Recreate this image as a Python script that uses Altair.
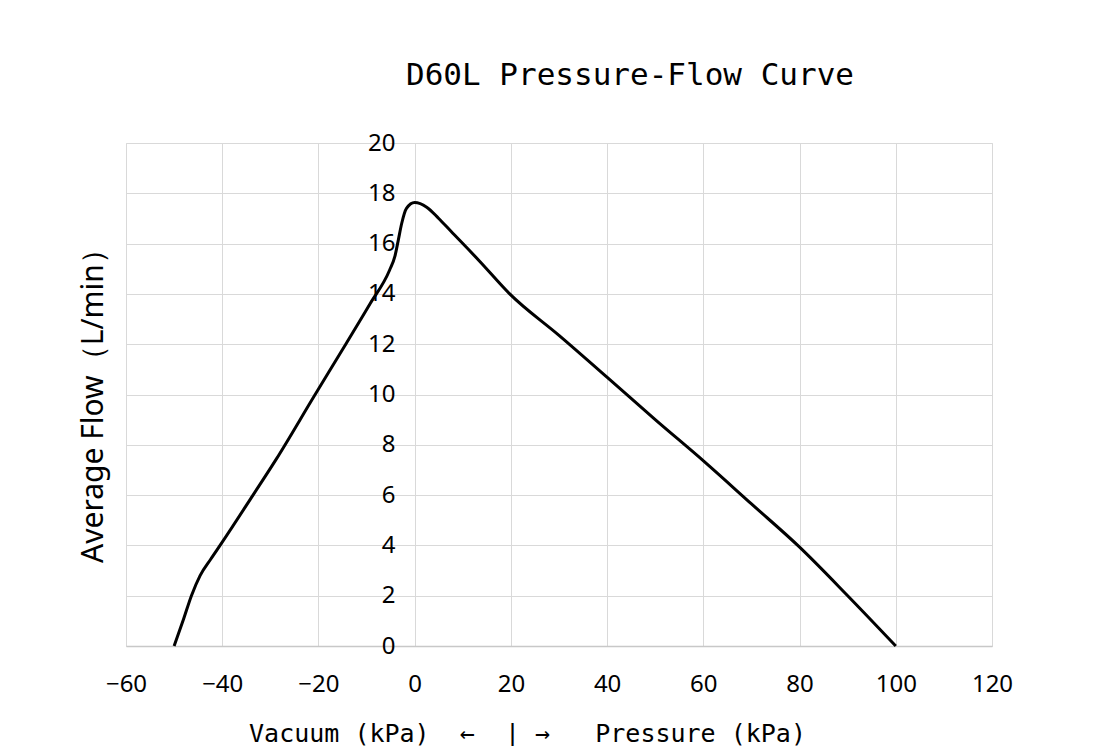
import altair as alt
import pandas as pd

# Pressure (kPa, negative = vacuum) and average flow (L/min)
pressure = [-50.0, -48.1, -46.4, -44.6, -42.4, -40.1, -33.6, -28.7, -21.0, -14.2,
            -9.3, -5.2, -4.1, -3.4, -2.7, -1.7, 0.0, 2.5, 5.0, 7.5, 13.5, 19.75,
            30.0, 40.5, 50.0, 60.2, 70.0, 79.9, 90.0, 100.0]
flow = [0.0, 1.03, 2.0, 2.8, 3.45, 4.1, 6.0, 7.45, 9.9, 12.04,
        13.6, 14.95, 15.5, 16.14, 16.8, 17.4, 17.63, 17.45, 17.0, 16.5, 15.3, 14.0,
        12.35, 10.6, 9.0, 7.33, 5.65, 3.95, 2.0, 0.0]

x_ticks = [-60, -40, -20, 0, 20, 40, 60, 80, 100, 120]
y_ticks = [0, 2, 4, 6, 8, 10, 12, 14, 16, 18, 20]

df = pd.DataFrame({"p": pressure, "f": flow})

NB = "\u00a0"
x_title = ("Vacuum" + NB + "(kPa)" + NB * 2 + "\u2190" + NB * 2 + "|" + NB + "\u2192"
           + NB * 3 + "Pressure" + NB + "(kPa)")

W, H = 866, 503
LBL_FONT = "Noto Sans"
MONO = "DejaVu Sans Mono"

line = alt.Chart(df).mark_line(
    color="black", strokeWidth=3, interpolate="monotone"
).encode(
    x=alt.X("p:Q",
            scale=alt.Scale(domain=[-60, 120], nice=False, zero=False),
            axis=alt.Axis(values=x_ticks, title=x_title, grid=True, gridColor="#d9d9d9",
                          gridWidth=1, ticks=False, domain=True, domainColor="#c8c8c8",
                          domainWidth=1.5, labelFont=LBL_FONT, labelFontSize=24,
                          labelColor="black", labelPadding=26, labelFlush=False,
                          titleFont=MONO, titleFontSize=25, titleFontWeight="normal",
                          titleColor="black", titleX=401, titleY=87, titleAlign="center",
                          titleBaseline="middle", titleAnchor="start")),
    y=alt.Y("f:Q",
            scale=alt.Scale(domain=[0, 20], nice=False),
            axis=alt.Axis(values=y_ticks, title="Average Flow\uff08L/min\uff09", grid=True,
                          gridColor="#d9d9d9", gridWidth=1, ticks=False, domain=False,
                          offset=-289, labelFont=LBL_FONT, labelFontSize=24,
                          labelColor="black", labelPadding=20,
                          titleFont=LBL_FONT, titleFontSize=30, titleFontWeight="normal",
                          titleColor="black", titleX=-322, titleY=255, titleAngle=-90,
                          titleAlign="center", titleBaseline="middle")),
)

chart = line.properties(
    width=W, height=H,
    title=alt.TitleParams("D60L Pressure-Flow Curve", font=MONO, fontSize=31,
                          fontWeight="normal", color="black", anchor="middle",
                          dx=71, offset=39),
    autosize=alt.AutoSizeParams(type="none"),
    padding={"left": 118, "top": 135, "right": 100, "bottom": 100},
).configure_view(stroke=None).configure(background="white")

chart.save("out.html", embed_options={"renderer": "svg", "actions": False})
